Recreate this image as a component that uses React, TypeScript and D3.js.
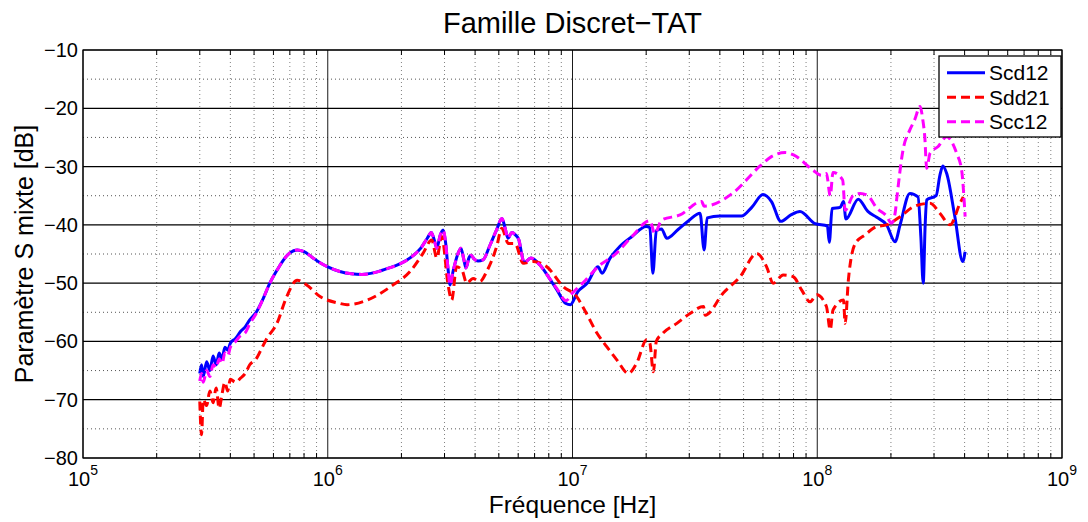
import React, { useEffect, useRef } from "react";
import * as d3 from "d3";

// Frequency [Hz] / level [dB] pairs
const scd12: [number, number][] = [
  [3.0e5, -65.5], [3.05e5, -64], [3.1e5, -66], [3.2e5, -63.5], [3.3e5, -65], [3.4e5, -62.5],
  [3.5e5, -64], [3.6e5, -62], [3.7e5, -63], [3.8e5, -61], [3.9e5, -61.5], [4.0e5, -60.3],
  [4.2e5, -59.5], [4.4e5, -58.3], [4.6e5, -57.5], [4.8e5, -56.3], [5.1e5, -55], [5.4e5, -53],
  [5.8e5, -50], [6.2e5, -47.8], [6.6e5, -46], [7.0e5, -44.8], [7.5e5, -44.3], [8.0e5, -44.6],
  [8.6e5, -45.5], [9.3e5, -46.5], [1.0e6, -47.2], [1.12e6, -48], [1.25e6, -48.4], [1.38e6, -48.5],
  [1.55e6, -48.2], [1.75e6, -47.5], [1.97e6, -46.7], [2.2e6, -45.5], [2.4e6, -44], [2.55e6, -42.3],
  [2.65e6, -41.3], [2.72e6, -42.5], [2.79e6, -44], [2.88e6, -41.8], [2.96e6, -40.9], [3.03e6, -43],
  [3.1e6, -47.5], [3.16e6, -50.3], [3.25e6, -48], [3.4e6, -45], [3.5e6, -44], [3.6e6, -46],
  [3.67e6, -47.4], [3.78e6, -45.6], [3.85e6, -45.2], [3.95e6, -45.8], [4.11e6, -46.2], [4.31e6, -46],
  [4.6e6, -43.5], [4.9e6, -40.8], [5.15e6, -38.9], [5.3e6, -40.5], [5.45e6, -42.3], [5.65e6, -41.3],
  [5.77e6, -41.5], [6.04e6, -42.6], [6.2e6, -45], [6.34e6, -46.5], [6.76e6, -45.7], [7.36e6, -46.9],
  [8.0e6, -49], [8.65e6, -51.2], [9.4e6, -53.5], [9.8e6, -53.7], [1.05e7, -51.5], [1.15e7, -50],
  [1.27e7, -47.2], [1.32e7, -48.3], [1.42e7, -45.8], [1.56e7, -43.7], [1.75e7, -42], [2.0e7, -40.3],
  [2.07e7, -40.5], [2.13e7, -48.3], [2.2e7, -41], [2.31e7, -40.7], [2.43e7, -42.3], [2.7e7, -40.8],
  [3.0e7, -39.2], [3.32e7, -38], [3.45e7, -44.3], [3.55e7, -38.8], [4.0e7, -38.5], [4.9e7, -38.5],
  [5.4e7, -37], [6.0e7, -34.8], [6.5e7, -36], [7.1e7, -39.4], [7.8e7, -38.3], [8.5e7, -37.7],
  [9.8e7, -39.8], [1.1e8, -40.2], [1.12e8, -43], [1.15e8, -37.2], [1.24e8, -37], [1.28e8, -36],
  [1.31e8, -39], [1.47e8, -35.6], [1.61e8, -37.7], [1.75e8, -38.7], [1.92e8, -40], [2.08e8, -42.9],
  [2.18e8, -40], [2.39e8, -34.6], [2.58e8, -35.2], [2.65e8, -42], [2.71e8, -50], [2.76e8, -40],
  [2.8e8, -35.7], [3.06e8, -35], [3.17e8, -31.5], [3.26e8, -29.9], [3.38e8, -31.2], [3.65e8, -38.6],
  [3.93e8, -46.3], [4.02e8, -44.6],
];

const sdd21: [number, number][] = [
  [3.0e5, -70.3], [3.05e5, -76], [3.1e5, -70], [3.2e5, -71], [3.3e5, -68.5], [3.4e5, -70.5],
  [3.5e5, -68], [3.6e5, -71.5], [3.7e5, -69], [3.8e5, -67], [3.9e5, -68.5], [4.0e5, -66.5],
  [4.2e5, -67], [4.4e5, -66.3], [4.6e5, -65.5], [4.8e5, -64], [5.1e5, -63], [5.4e5, -61],
  [5.6e5, -59.7], [6.2e5, -56.9], [6.8e5, -52.3], [7.5e5, -49.5], [8.2e5, -50.3], [9.3e5, -52.3],
  [1.1e6, -53.4], [1.2e6, -53.7], [1.45e6, -52.9], [1.85e6, -50.3], [2.17e6, -48], [2.45e6, -44.9],
  [2.66e6, -42.6], [2.79e6, -45.7], [2.92e6, -42], [3.11e6, -50.6], [3.21e6, -52.9], [3.36e6, -47.2],
  [3.53e6, -47.7], [3.7e6, -50], [3.92e6, -49.2], [4.19e6, -49.7], [4.46e6, -48], [4.9e6, -43.7],
  [5.14e6, -40.6], [5.47e6, -43.2], [5.82e6, -43.2], [6.29e6, -46.6], [6.91e6, -46.3], [7.85e6, -47.2],
  [9.17e6, -50.6], [1.04e7, -52.3], [1.14e7, -55.2], [1.26e7, -58.6], [1.38e7, -60.9], [1.52e7, -63.2],
  [1.69e7, -65.5], [1.83e7, -63.7], [2.01e7, -59.7], [2.07e7, -60.3], [2.14e7, -65.2], [2.2e7, -60],
  [2.34e7, -58.6], [2.67e7, -56.9], [3.02e7, -55.2], [3.43e7, -54], [3.48e7, -55.5], [4.13e7, -51.7],
  [4.84e7, -48.9], [5.66e7, -44.9], [6.21e7, -47.2], [6.61e7, -50], [7.26e7, -48.6], [7.98e7, -48.9],
  [8.64e7, -51.2], [9.34e7, -53.2], [9.95e7, -52], [1.09e8, -54], [1.13e8, -58], [1.16e8, -54.6],
  [1.28e8, -52.9], [1.3e8, -56.9], [1.34e8, -49.5], [1.43e8, -43.2], [1.57e8, -41.7], [1.75e8, -40.3],
  [1.92e8, -40], [2.18e8, -38.6], [2.47e8, -36.9], [2.89e8, -36.3], [3.17e8, -38], [3.49e8, -40],
  [3.83e8, -36.3], [3.95e8, -35.2],
];

const scc12: [number, number][] = [
  [3.0e5, -66.8], [3.05e5, -65.5], [3.1e5, -67], [3.2e5, -65], [3.3e5, -66], [3.4e5, -64],
  [3.5e5, -64.5], [3.6e5, -63], [3.7e5, -63.8], [3.8e5, -62], [3.9e5, -62.5], [4.0e5, -61],
  [4.2e5, -60], [4.4e5, -59], [4.6e5, -58.5], [4.8e5, -57], [5.1e5, -55.2], [5.4e5, -53],
  [5.8e5, -50], [6.2e5, -47.8], [6.6e5, -46], [7.0e5, -44.8], [7.5e5, -44.3], [8.0e5, -44.6],
  [8.6e5, -45.5], [9.3e5, -46.5], [1.0e6, -47.2], [1.12e6, -48], [1.25e6, -48.4], [1.38e6, -48.5],
  [1.55e6, -48.2], [1.75e6, -47.5], [1.97e6, -46.7], [2.2e6, -45.5], [2.4e6, -44], [2.55e6, -42.3],
  [2.65e6, -41.3], [2.72e6, -42.5], [2.79e6, -44], [2.88e6, -41.8], [2.96e6, -40.9], [3.03e6, -43],
  [3.1e6, -47.5], [3.16e6, -50.3], [3.25e6, -48], [3.4e6, -45], [3.5e6, -44], [3.6e6, -46],
  [3.67e6, -47.4], [3.78e6, -45.6], [3.85e6, -45.2], [3.95e6, -45.8], [4.11e6, -46.2], [4.31e6, -46],
  [4.6e6, -43.5], [4.9e6, -40.8], [5.15e6, -38.9], [5.3e6, -40.5], [5.45e6, -42.3], [5.65e6, -41.3],
  [5.77e6, -41.5], [6.04e6, -42.6], [6.2e6, -45], [6.34e6, -46.5], [6.76e6, -45.7], [7.36e6, -46.9],
  [8.0e6, -49], [8.65e6, -51], [9.4e6, -53], [1.0e7, -51.7], [1.13e7, -49.5], [1.27e7, -47.2],
  [1.5e7, -45], [1.75e7, -42], [2.07e7, -39.3], [2.17e7, -41.5], [2.31e7, -39.2], [2.75e7, -38.3],
  [3.37e7, -36], [3.45e7, -36.8], [4.5e7, -34.6], [5.84e7, -29.9], [6.5e7, -28.3], [7.4e7, -27.6],
  [8.0e7, -28], [9.6e7, -30.6], [1.04e8, -31.5], [1.09e8, -31.2], [1.13e8, -35], [1.16e8, -31],
  [1.27e8, -32.3], [1.3e8, -37.5], [1.4e8, -35], [1.5e8, -34.6], [1.61e8, -35], [1.75e8, -37.1],
  [1.92e8, -38.5], [2.01e8, -39.7], [2.08e8, -38], [2.11e8, -35.7], [2.24e8, -27.2], [2.39e8, -23.7],
  [2.5e8, -22], [2.63e8, -19.7], [2.7e8, -22], [2.75e8, -24.9], [2.8e8, -30.3], [2.89e8, -27.7],
  [3.11e8, -26.6], [3.38e8, -24.9], [3.71e8, -27.7], [3.89e8, -30.6], [4.02e8, -38.6],
];

const yTicks = [-80, -70, -60, -50, -40, -30, -20, -10];
const yMinor = [-75, -65, -55, -45, -35, -25, -15];
const decades = [5, 6, 7, 8, 9];

const series = [
  { name: "Scd12", data: scd12, color: "#0000ff", dash: null as string | null },
  { name: "Sdd21", data: sdd21, color: "#ff0000", dash: "9,5" },
  { name: "Scc12", data: scc12, color: "#ff00ff", dash: "9,5" },
];

const W = 1088, H = 522;
const left = 83, right = 1062, top = 50, bottom = 458;
const FONT = "'Liberation Sans', Arial, Helvetica, sans-serif";

export default function App() {
  const ref = useRef<SVGSVGElement>(null);

  useEffect(() => {
    const svg = d3.select(ref.current);
    svg.selectAll("*").remove();

    const x = d3.scaleLog().domain([1e5, 1e9]).range([left, right]);
    const y = d3.scaleLinear().domain([-80, -10]).range([bottom, top]);

    const minorX: number[] = [];
    decades.slice(0, -1).forEach(d => {
      for (let m = 2; m <= 9; m++) minorX.push(m * Math.pow(10, d));
    });

    svg.append("rect").attr("x", left).attr("y", top)
      .attr("width", right - left).attr("height", bottom - top).attr("fill", "#fff");

    const grid = svg.append("g");
    // minor grid
    grid.selectAll(".mx").data(minorX).enter().append("line")
      .attr("x1", d => x(d)).attr("x2", d => x(d)).attr("y1", top).attr("y2", bottom)
      .attr("stroke", "#808080").attr("stroke-width", 1).attr("stroke-dasharray", "1,3");
    grid.selectAll(".my").data(yMinor).enter().append("line")
      .attr("x1", left).attr("x2", right).attr("y1", d => y(d)).attr("y2", d => y(d))
      .attr("stroke", "#555").attr("stroke-width", 1).attr("stroke-dasharray", "1,3");
    // major grid
    grid.selectAll(".gx").data(decades.map(d => Math.pow(10, d))).enter().append("line")
      .attr("x1", d => x(d)).attr("x2", d => x(d)).attr("y1", top).attr("y2", bottom)
      .attr("stroke", "#1a1a1a").attr("stroke-width", 1);
    grid.selectAll(".gy").data(yTicks).enter().append("line")
      .attr("x1", left).attr("x2", right).attr("y1", d => y(d)).attr("y2", d => y(d))
      .attr("stroke", "#000").attr("stroke-width", 1.2);

    // minor tick marks top/bottom
    const ticks = svg.append("g").attr("stroke", "#000").attr("stroke-width", 1);
    minorX.forEach(v => {
      ticks.append("line").attr("x1", x(v)).attr("x2", x(v)).attr("y1", bottom).attr("y2", bottom - 5);
      ticks.append("line").attr("x1", x(v)).attr("x2", x(v)).attr("y1", top).attr("y2", top + 5);
    });

    // curves
    const clip = svg.append("clipPath").attr("id", "plotclip");
    clip.append("rect").attr("x", left).attr("y", top).attr("width", right - left).attr("height", bottom - top);
    const line = d3.line<[number, number]>().x(d => x(d[0])).y(d => y(d[1])).curve(d3.curveMonotoneX);
    const curves = svg.append("g").attr("clip-path", "url(#plotclip)");
    series.forEach(s => {
      const p = curves.append("path").datum(s.data)
        .attr("d", line).attr("fill", "none").attr("stroke", s.color)
        .attr("stroke-width", 3).attr("stroke-linejoin", "round");
      if (s.dash) p.attr("stroke-dasharray", s.dash);
    });

    // box
    svg.append("rect").attr("x", left).attr("y", top).attr("width", right - left)
      .attr("height", bottom - top).attr("fill", "none").attr("stroke", "#000").attr("stroke-width", 1.2);

    // y tick labels
    svg.append("g").selectAll("text").data(yTicks).enter().append("text")
      .attr("x", left - 5).attr("y", d => y(d) + 7).attr("text-anchor", "end")
      .attr("font-family", FONT).attr("font-size", 20).attr("fill", "#000")
      .text(d => (d < 0 ? "\u2212" + Math.abs(d) : String(d)));

    // x tick labels 10^k
    const xl = svg.append("g").selectAll("text").data(decades).enter().append("text")
      .attr("x", d => x(Math.pow(10, d))).attr("y", 486).attr("text-anchor", "middle")
      .attr("font-family", FONT).attr("font-size", 20).attr("fill", "#000");
    xl.append("tspan").text("10");
    xl.append("tspan").attr("dy", -11).attr("font-size", 14).text(d => String(d));

    // title & axis labels
    svg.append("text").attr("x", (left + right) / 2).attr("y", 33).attr("text-anchor", "middle")
      .attr("font-family", FONT).attr("font-size", 29).text("Famille Discret\u2212TAT");
    svg.append("text").attr("x", (left + right) / 2).attr("y", 513).attr("text-anchor", "middle")
      .attr("font-family", FONT).attr("font-size", 24.5).text("Fréquence [Hz]");
    svg.append("text").attr("transform", `translate(33,${(top + bottom) / 2}) rotate(-90)`)
      .attr("text-anchor", "middle").attr("font-family", FONT).attr("font-size", 25)
      .text("Paramètre S mixte [dB]");

    // legend
    const lg = svg.append("g");
    lg.append("rect").attr("x", 939).attr("y", 56).attr("width", 122).attr("height", 81)
      .attr("fill", "#fff").attr("stroke", "#000").attr("stroke-width", 1.3);
    series.forEach((s, i) => {
      const cy = 72.7 + i * 24.5;
      const l = lg.append("line").attr("x1", 947).attr("x2", 985).attr("y1", cy).attr("y2", cy)
        .attr("stroke", s.color).attr("stroke-width", 3);
      if (s.dash) l.attr("stroke-dasharray", s.dash);
      lg.append("text").attr("x", 989).attr("y", cy + 7.5).attr("font-family", FONT)
        .attr("font-size", 21).text(s.name);
    });
  }, []);

  return (
    <svg ref={ref} width={W} height={H}
      style={{ position: "absolute", left: 0, top: 0, background: "#fff" }} />
  );
}
